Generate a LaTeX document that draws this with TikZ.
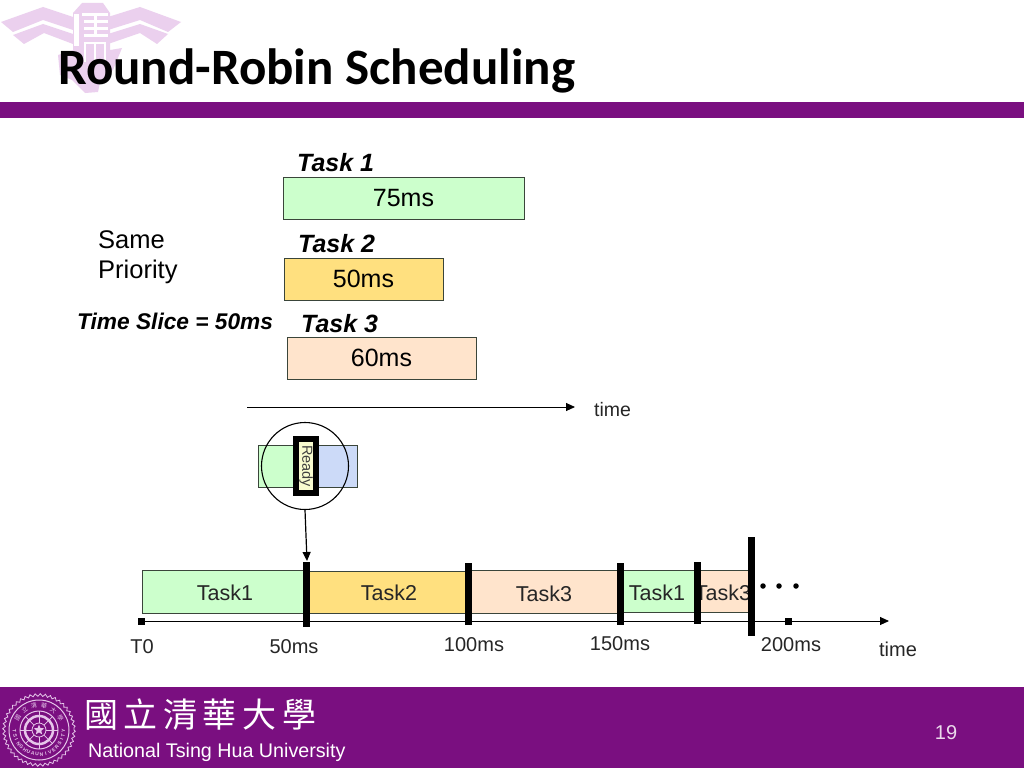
\documentclass[tikz,border=0pt]{standalone}
\usepackage{fontspec}
\setmainfont{Liberation Sans}
\newfontfamily\titlefont{Carlito}
\newfontfamily\cjkfont[LetterSpace=16.5]{Noto Sans CJK TC}
\newfontfamily\cjksmall{Noto Sans CJK TC}
\usetikzlibrary{shapes.geometric,decorations.pathmorphing,arrows.meta}
\definecolor{nthu}{HTML}{7A0F80}
\definecolor{logopink}{HTML}{EBD0EE}
\definecolor{sealpink}{HTML}{E6C6EA}
\definecolor{tgreen}{HTML}{CCFFCC}
\definecolor{tyellow}{HTML}{FFE07F}
\definecolor{tpeach}{HTML}{FFE4CC}
\definecolor{tblue}{HTML}{CCDAF8}
\definecolor{tready}{HTML}{F8FBCF}
\definecolor{boxline}{HTML}{3A453A}
\tikzset{
  taskbox/.style={draw=boxline,line width=0.9pt,inner sep=0pt,font=\fontsize{25}{25}\selectfont},
  slotbox/.style={draw=boxline,line width=0.9pt,inner sep=0pt},
  tasklabel/.style={anchor=west,inner sep=0pt,font=\fontsize{25}{25}\selectfont\bfseries\itshape},
  plain/.style={inner sep=0pt,font=\fontsize{20}{20}\selectfont,text=black!85},
  cutbar/.style={line width=7pt,black},
  tick/.style={fill=black,inner sep=0pt,minimum size=7pt},
  dotmark/.style={circle,fill=black,inner sep=0pt,minimum size=5.5pt},
  conn/.style={black,line width=0.9pt,-{Triangle[length=9pt,width=8pt]}},
}
\begin{document}
\begin{tikzpicture}[x=1pt,y=-1pt]
\useasboundingbox (0,0) rectangle (1024,768);
\fill[white] (0,0) rectangle (1024,768);
% logo
\fill[logopink] (1,22)--(43,7)--(73,17)--(73,30)--(43,20)--(13,32)--cycle;
\fill[logopink] (13,35)--(43,24)--(73,34)--(73,44)--(44,33)--(24,44)--cycle;
\fill[logopink] (108,17)--(140,7)--(181,22)--(168,32)--(140,20)--(108,30)--cycle;
\fill[logopink] (108,34)--(140,24)--(168,34)--(157,44)--(140,33)--(108,44)--cycle;
\fill[logopink] (73,13)--(82,3)--(103,3)--(110,13)--(110,50)--(122,48)--(113,70)--(100,82)--(98,92)--(85,93)--(72,80)--(60,75)--(58,55)--(73,50)--cycle;
\fill[white] (74,14) rectangle (79,46);
\fill[white] (82,13) rectangle (108,16);
\fill[white] (84,20) rectangle (108,23);
\fill[white] (84,27) rectangle (108,30);
\fill[white] (84,34) rectangle (108,37);
\fill[white] (94,13) rectangle (97,37);
\fill[white] (84,42) rectangle (106,44);
\fill[white] (84,44) rectangle (86,62);
\fill[white] (104,44) rectangle (106,62);
\fill[white] (94,44) rectangle (96,62);
% title
\node[anchor=west,inner sep=0pt,font=\fontsize{51}{51}\selectfont\titlefont\bfseries] (title) at (58,71) {Round-Robin Scheduling};
% bands
\fill[nthu] (0,102) rectangle (1024,118);
\fill[nthu] (0,687) rectangle (1024,768);
% task definitions
\node[tasklabel] (l1) at (297,163) {Task 1};
\node[taskbox,fill=tgreen,minimum width=241pt,minimum height=42pt] (t1) at (403.5,198) {\raisebox{-1pt}{75ms}};
\node[tasklabel] (l2) at (298,244) {Task 2};
\node[taskbox,fill=tyellow,minimum width=159pt,minimum height=42pt] (t2) at (363.5,279) {\raisebox{-1pt}{50ms}};
\node[tasklabel] (l3) at (301,324) {Task 3};
\node[taskbox,fill=tpeach,minimum width=189pt,minimum height=42pt] (t3) at (381.5,358) {\raisebox{-1pt}{60ms}};
\node[anchor=west,inner sep=0pt,font=\fontsize{25.5}{25.5}\selectfont] (same) at (98,240) {Same};
\node[anchor=west,inner sep=0pt,font=\fontsize{25.5}{25.5}\selectfont] (prio) at (98,272) {Priority};
\node[anchor=west,inner sep=0pt,font=\fontsize{22.7}{23}\selectfont\bfseries\itshape] (slice) at (77,321) {Time Slice = 50ms};
% upper time arrow
\coordinate (a1) at (247,407);
\node[plain,anchor=west,font=\fontsize{19.5}{20}\selectfont] (time1) at (594,410) {time};
\draw[conn] (a1) -- (575,407) coordinate (a2);
% ready detail
\node[draw=boxline,line width=0.9pt,fill=tgreen,minimum width=38pt,minimum height=42pt,inner sep=0pt] (rg) at (277,466) {};
\node[draw=boxline,line width=0.9pt,fill=tblue,minimum width=45pt,minimum height=42pt,inner sep=0pt] (rb) at (335,466) {};
\node[draw=black,line width=6pt,fill=tready,inner sep=0pt,rotate=-90,font=\fontsize{14.5}{15}\selectfont,text=black!75,shape=rectangle,minimum width=54pt,minimum height=20pt] (ready) at (306,466) {Ready};
\node[circle,draw=black,line width=1.1pt,minimum size=87pt,inner sep=0pt] (zoomc) at (305,466) {};
\coordinate (rtip) at (307,561);
\draw[conn,line width=1.2pt] (zoomc.south) -- (rtip);
% schedule
\node[slotbox,fill=tgreen,minimum width=162pt,minimum height=43pt] (s1) at (223,591.5) {};
\node[slotbox,fill=tyellow,minimum width=159pt,minimum height=42pt] (s2) at (388.5,592) {};
\node[slotbox,fill=tpeach,minimum width=150pt,minimum height=43pt] (s3) at (545,591.5) {};
\node[slotbox,fill=tgreen,minimum width=77pt,minimum height=42pt] (s4) at (658.5,591) {};
\node[slotbox,fill=tpeach,minimum width=53pt,minimum height=42pt] (s5) at (723.5,591) {};
\node[plain,font=\fontsize{21.5}{22}\selectfont] (n1) at (225,593) {Task1};
\node[plain,font=\fontsize{21.5}{22}\selectfont] (n2) at (389,593) {Task2};
\node[plain,font=\fontsize{21.5}{22}\selectfont] (n3) at (544,594) {Task3};
\node[plain,font=\fontsize{21.5}{22}\selectfont] (n4) at (657,593) {Task1};
\node[plain,font=\fontsize{21.5}{22}\selectfont] (n5) at (723,593) {Task3};
% axis
\node[tick] (t0) at (141,621) {};
\node[tick] (t200) at (788,621) {};
\coordinate (axend) at (889,621);
\draw[conn] (t0.center) -- (axend);
% bars
\coordinate (b1a) at (306,562); \coordinate (b1b) at (306,627);
\coordinate (b2a) at (468,563); \coordinate (b2b) at (468,625);
\coordinate (b3a) at (620.5,563); \coordinate (b3b) at (620.5,625);
\coordinate (b4a) at (697.5,562); \coordinate (b4b) at (697.5,624);
\coordinate (b5a) at (751.5,537); \coordinate (b5b) at (751.5,636);
\foreach \p/\q in {b1a/b1b,b2a/b2b,b3a/b3b,b4a/b4b,b5a/b5b} \draw[cutbar] (\p) -- (\q);
\node[dotmark] (d1) at (763,586) {};
\node[dotmark] (d2) at (779,586) {};
\node[dotmark] (d3) at (796,586) {};
% axis labels
\node[plain] (lt0) at (142,647) {T0};
\node[plain] (l50) at (294,647) {50ms};
\node[plain] (l100) at (474,645) {100ms};
\node[plain] (l150) at (620,644) {150ms};
\node[plain] (l200) at (791,645) {200ms};
\node[plain] (time2) at (898,649) {time};
% footer
\node[anchor=west,inner sep=0pt,text=white,font=\fontsize{34}{34}\selectfont\cjkfont] (cn) at (84,715) {國立清華大學};
\node[anchor=west,inner sep=0pt,text=white,font=\fontsize{19.7}{20}\selectfont] (en) at (88,752) {National Tsing Hua University};
\node[text=white!85!nthu,inner sep=0pt,font=\fontsize{20}{20}\selectfont] (pg) at (946,733) {19};
% seal
\draw[sealpink,line width=0.8pt,decorate,decoration={zigzag,segment length=5pt,amplitude=1.3pt}] (39,730) circle[radius=35];
\draw[sealpink,line width=1pt] (39,730) circle[radius=30];
\draw[sealpink,line width=1pt] (39,730) circle[radius=19];
\draw[sealpink,line width=2.5pt] (39,730) circle[radius=14];
\draw[sealpink,line width=0.8pt] (39,730) circle[radius=7];
\foreach \a in {0,45,...,315} \draw[sealpink,line width=0.7pt] (39,730)++(\a:7) -- ++(\a:12);
\node[star,star points=5,star point ratio=2.3,fill=sealpink,inner sep=0pt,minimum size=11pt] (sealstar) at (39,730) {};
\foreach \c [count=\i] in {T,S,I,N,G,H,U,A,U,N,I,V,E,R,S,I,T,Y}
  \pgfmathsetmacro{\ang}{183+(\i-1)*10.3}
  \node[sealpink,inner sep=0pt,font=\fontsize{5}{6}\selectfont\bfseries,rotate=\ang-90+180] at ({39+24.5*cos(\ang)},{730-24.5*sin(\ang)}) {\c};
\foreach \c [count=\i] in {國,立,清,華,大,學}
  \pgfmathsetmacro{\ang}{150-(\i-1)*24}
  \node[sealpink,inner sep=0pt,font=\fontsize{6}{6}\selectfont\cjksmall,rotate=\ang-90] at ({39+24.5*cos(\ang)},{730-24.5*sin(\ang)}) {\c};
\end{tikzpicture}
\end{document}
